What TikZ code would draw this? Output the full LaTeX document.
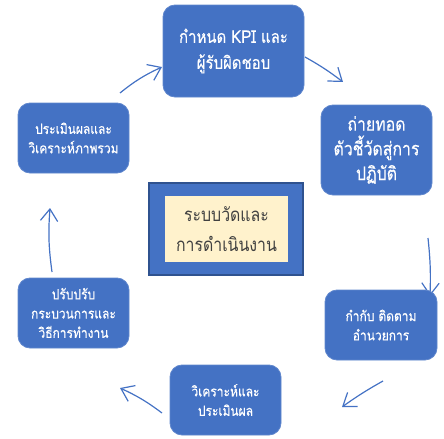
\documentclass[tikz,border=0pt]{standalone}
\usepackage{fontspec}
\newfontfamily\thaiw[Script=Thai, FakeStretch=0.85, FakeBold=0.35]{Loma}
\newfontfamily\thaic[Script=Thai, FakeStretch=0.85]{Loma}
\usetikzlibrary{arrows.meta}
\definecolor{boxblue}{RGB}{68,114,196}
\definecolor{edgeblue}{RGB}{47,82,143}
\definecolor{cream}{RGB}{255,242,204}
\definecolor{darktext}{RGB}{64,64,64}
\tikzset{
  stepbox/.style={fill=boxblue, draw=boxblue!85!white, line width=0.6pt, rounded corners=9pt, text=white, align=center, inner sep=0pt},
  bigtext/.style={font={\thaiw\fontsize{13.2}{19.5}\selectfont}},
  midtext/.style={font={\thaiw\fontsize{14}{18.5}\selectfont}},
  smalltext/.style={font={\thaiw\fontsize{10.6}{14.5}\selectfont}},
  flow/.style={draw=boxblue, line width=0.9pt, -{Straight Barb[length=9pt,width=13pt,line width=0.9pt]}},
}
\begin{document}
\begin{tikzpicture}[x=0.75pt,y=-0.75pt]
\useasboundingbox (0,0) rectangle (444,439);
% arrow end points
\coordinate (a1s) at (120,93);  \coordinate (a1e) at (162,67);
\coordinate (a2s) at (305,57);  \coordinate (a2e) at (343,82);
\coordinate (a3s) at (428,238); \coordinate (a3e) at (430,296);
\coordinate (a4s) at (383,381); \coordinate (a4e) at (342,407);
\coordinate (a5s) at (162,413); \coordinate (a5e) at (120,388);
\coordinate (a6s) at (52,272);  \coordinate (a6e) at (50,208);
\draw[flow] (a1s) to[bend left=7] (a1e);
\draw[flow] (a2s) to[bend left=4] (a2e);
\draw[flow] (a3s) to[bend left=4] (a3e);
\draw[flow] (a4s) to[bend right=3] (a4e);
\draw[flow] (a5s) to[bend right=6] (a5e);
\draw[flow] (a6s) to[bend left=6] (a6e);
% boxes
\node[stepbox, bigtext, minimum width=141*0.75pt, minimum height=92*0.75pt] (kpi) at (233.5,51) {กำหนด KPI และ\\ผู้รับผิดชอบ};
\node[stepbox, midtext, minimum width=111*0.75pt, minimum height=90*0.75pt] (cascade) at (376.5,150) {ถ่ายทอด\\ตัวชี้วัดสู่การ\\ปฏิบัติ};
\node[stepbox, smalltext, minimum width=112*0.75pt, minimum height=70*0.75pt] (monitor) at (381,325) {กำกับ ติดตาม\\อำนวยการ};
\node[stepbox, smalltext, minimum width=111*0.75pt, minimum height=70*0.75pt] (analyze) at (225.5,400) {วิเคราะห์และ\\ประเมินผล};
\node[stepbox, smalltext, minimum width=111*0.75pt, minimum height=70*0.75pt] (improve) at (73.5,313) {ปรับปรับ\\กระบวนการและ\\วิธีการทำงาน};
\node[stepbox, smalltext, minimum width=111*0.75pt, minimum height=70*0.75pt] (evaluate) at (73.5,138) {ประเมินผลและ\\วิเคราะห์ภาพรวม};
% centre
\node[fill=boxblue, draw=edgeblue, line width=1.5pt, minimum width=154*0.75pt, minimum height=92*0.75pt] (outer) at (226,229) {};
\node[fill=cream, text=darktext, align=center, inner sep=0pt, minimum width=123*0.75pt, minimum height=66*0.75pt, font={\thaic\fontsize{14}{22.5}\selectfont}] (core) at (226.5,229) {ระบบวัดและ\\การดำเนินงาน};
\end{tikzpicture}
\end{document}
